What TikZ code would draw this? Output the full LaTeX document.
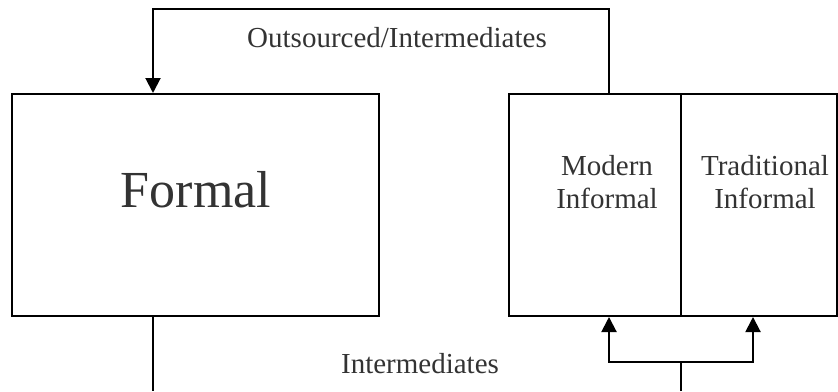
\documentclass[tikz,border=0pt]{standalone}
\usepackage{fontspec}
\setmainfont{Liberation Serif}
\usetikzlibrary{arrows.meta}

\tikzset{
  sector/.style={draw, line width=1pt, rectangle, inner sep=0pt, minimum height=111pt},
  link/.style={line width=1pt},
  flow/.style={link, -{Triangle[width=7.5pt,length=7.5pt]}},
  lbl/.style={text=black!80, inner sep=0pt, font=\fontsize{14.5}{16.5}\selectfont},
}

\begin{document}
\begin{tikzpicture}[x=0.5pt,y=-0.5pt]
\useasboundingbox (0,0) rectangle (838,391);

% the three sectors
\node[sector, minimum width=183.5pt] (formal) at (195.5,205) {};
\node[sector, minimum width=86pt] (modern) at (595,205) {};
\node[sector, minimum width=78pt] (trad) at (759,205) {};

\node[lbl, font=\fontsize{26}{30}\selectfont, anchor=base] (formaltxt) at (196,207) {Formal};
% base of a two-line node sits on its last line
\node[lbl, align=center, anchor=base] (moderntxt) at (607,208) {Modern\\Informal};
\node[lbl, align=center, anchor=base] (tradtxt) at (765,208) {Traditional\\Informal};

% flows between them
\node[lbl, anchor=base] (outlbl) at (397,47) {Outsourced/Intermediates};
\node[lbl, anchor=base] (intlbl) at (420,373) {Intermediates};

\coordinate (feed) at (153,9);
\coordinate (back) at (609,9);
\draw[flow] (back |- modern.north) -- (back) -- (feed) -- (feed |- formal.north);

\coordinate (fdown) at (153,391);
\draw[link] (fdown |- formal.south) -- (fdown);

\coordinate (sdown) at (681,391);
\coordinate (split) at (681,362);
\coordinate (ml) at (609,362);
\coordinate (tr) at (753,362);
\draw[link] (sdown) -- (split);
\draw[flow] (split) -- (ml) -- (ml |- modern.south);
\draw[flow] (split) -- (tr) -- (tr |- trad.south);
\end{tikzpicture}
\end{document}
